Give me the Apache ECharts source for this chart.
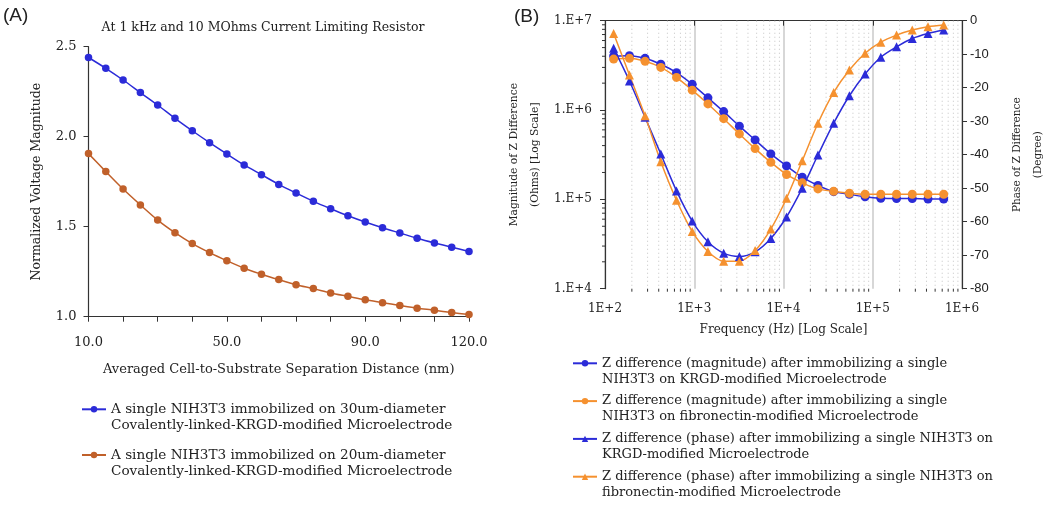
<!DOCTYPE html>
<html><head><meta charset="utf-8">
<script src="https://cdn.jsdelivr.net/npm/echarts@6/dist/echarts.min.js"></script>
<style>html,body{margin:0;padding:0;background:#fff}#c{width:1050px;height:507px}</style>
</head><body><div id="c"></div>
<script>
// ---------- Panel A data ----------
const distances = [10,15,20,25,30,35,40,45,50,55,60,65,70,75,80,85,90,95,100,105,110,115,120];
const voltage30um = [2.44,2.38,2.315,2.245,2.176,2.102,2.033,1.967,1.904,1.843,1.789,1.735,1.687,1.641,1.600,1.561,1.526,1.494,1.465,1.436,1.410,1.386,1.362];
const voltage20um = [1.906,1.806,1.709,1.621,1.537,1.467,1.406,1.356,1.311,1.269,1.236,1.206,1.178,1.156,1.132,1.113,1.094,1.078,1.062,1.047,1.036,1.023,1.012];
const panelAXTicks = [10, 50, 90, 120];
const panelALegend = [
  'A single NIH3T3 immobilized on 30um-diameter\nCovalently-linked-KRGD-modified Microelectrode',
  'A single NIH3T3 immobilized on 20um-diameter\nCovalently-linked-KRGD-modified Microelectrode'
];
// ---------- Panel B data ----------
const frequencies = [125,188,281,422,633,949,1424,2136,3204,4806,7209,10814,16220,24330,36496,54744,82116,123174,184761,277141,415712,623568];
const magKRGD = [4.03e6,4.06e6,3.79e6,3.25e6,2.62e6,1.94e6,1.37e6,9.6e5,6.6e5,4.63e5,3.23e5,2.37e5,1.77e5,1.43e5,1.22e5,1.14e5,1.07e5,1.03e5,1.02e5,1.02e5,1.01e5,1.01e5];
const magFN = [3.72e6,3.79e6,3.51e6,3.0e6,2.32e6,1.67e6,1.17e6,8.0e5,5.4e5,3.7e5,2.6e5,1.9e5,1.53e5,1.31e5,1.23e5,1.17e5,1.14e5,1.14e5,1.14e5,1.14e5,1.14e5,1.14e5];
const phaseKRGD = [-8.2,-18.0,-28.8,-39.8,-50.8,-59.8,-66.0,-69.4,-70.4,-69.0,-65.0,-58.6,-50.0,-40.1,-30.6,-22.4,-15.9,-10.9,-7.8,-5.3,-3.8,-2.8];
const phaseFN = [-3.8,-16.2,-28.4,-42.1,-53.6,-62.9,-68.9,-71.8,-71.8,-68.6,-62.2,-53.0,-41.8,-30.6,-21.4,-14.7,-9.7,-6.4,-4.3,-2.8,-1.8,-1.3];
const panelBLegend = [
  'Z difference (magnitude) after immobilizing a single\nNIH3T3 on KRGD-modified Microelectrode',
  'Z difference (magnitude) after immobilizing a single\nNIH3T3 on fibronectin-modified Microelectrode',
  'Z difference (phase) after immobilizing a single NIH3T3 on\nKRGD-modified Microelectrode',
  'Z difference (phase) after immobilizing a single NIH3T3 on\nfibronectin-modified Microelectrode'
];
// log-axis minor tick values (2..9 x each decade)
const freqMinor = [];
for (let e = 2; e < 6; e++) for (let m = 2; m <= 9; m++) freqMinor.push(m * Math.pow(10, e));
const magMinor = [];
for (let e = 4; e < 7; e++) for (let m = 2; m <= 9; m++) magMinor.push(m * Math.pow(10, e));

const SERIF = "'DejaVu Serif', serif";
const SANS = "'Liberation Sans', Arial, sans-serif";
const BLUE = '#2b2bd8', BROWN = '#c0602a', ORANGE = '#f5912f';
const AX = '#333';
const pair = (xs, ys) => xs.map((x, i) => [x, ys[i]]);
// leading blank line keeps the legend icon level with the first text line
const legendFmt = name => '\n' + name;

const chart = echarts.init(document.getElementById('c'), null, {renderer: 'canvas'});
chart.setOption({
  animation: false,
  backgroundColor: '#fff',
  title: [
    {text: '(A)', left: 3, top: 6, padding: 0, textStyle: {fontFamily: SANS, fontSize: 19, fontWeight: 'normal', color: '#222'}},
    {text: '(B)', left: 514, top: 7, padding: 0, textStyle: {fontFamily: SANS, fontSize: 19, fontWeight: 'normal', color: '#222'}},
    {text: 'At 1 kHz and 10 MOhms Current Limiting Resistor', left: 263, top: 21, padding: 0, textAlign: 'center',
     textStyle: {fontFamily: SERIF, fontSize: 12.5, fontWeight: 'normal', color: '#222'}}
  ],
  grid: [
    {left: 88.5, right: 581, top: 46.7, bottom: 190.3},
    {left: 605, right: 85.7, top: 20.7, bottom: 218.3}
  ],
  legend: [
    {orient: 'vertical', left: 81, top: 385.3, padding: 0, itemGap: -2.3, itemWidth: 24, itemHeight: 8,
     data: panelALegend, selectedMode: false, formatter: legendFmt,
     textStyle: {fontFamily: SERIF, fontSize: 13.6, lineHeight: 16, color: '#222'}},
    {orient: 'vertical', left: 572, top: 339.3, padding: 0, itemGap: -10.2, itemWidth: 24, itemHeight: 8,
     data: panelBLegend, selectedMode: false, formatter: legendFmt,
     textStyle: {fontFamily: SERIF, fontSize: 13.0, lineHeight: 16, color: '#222'}}
  ],
  xAxis: [
    {gridIndex: 0, type: 'value', min: 10, max: 120, interval: 10,
     name: 'Averaged Cell-to-Substrate Separation Distance (nm)', nameLocation: 'middle', nameGap: 46,
     nameTextStyle: {fontFamily: SERIF, fontSize: 13, color: '#222'},
     axisLine: {show: true, lineStyle: {color: AX, width: 1.2}},
     axisTick: {show: true, length: 5, lineStyle: {color: AX}},
     axisLabel: {margin: 19, fontFamily: SERIF, fontSize: 13, color: '#222',
       formatter: v => panelAXTicks.includes(v) ? v.toFixed(1) : ''},
     splitLine: {show: false}},
    {gridIndex: 1, type: 'log', logBase: 10, min: 100, max: 1e6,
     name: 'Frequency (Hz) [Log Scale]', nameLocation: 'middle', nameGap: 35,
     nameTextStyle: {fontFamily: SERIF, fontSize: 12, color: '#222'},
     axisLine: {show: true, lineStyle: {color: AX, width: 1.2}},
     axisTick: {show: true, length: 5, lineStyle: {color: AX}},
     axisLabel: {margin: 14, fontFamily: SERIF, fontSize: 12, color: '#222',
       formatter: v => '1E+' + Math.round(Math.log10(v))},
     splitLine: {show: true, lineStyle: {color: '#cacaca', width: 1.5}}}
  ],
  yAxis: [
    {gridIndex: 0, type: 'value', min: 1, max: 2.5, interval: 0.5,
     name: 'Normalized Voltage Magnitude', nameLocation: 'middle', nameGap: 45, nameRotate: 90,
     nameTextStyle: {fontFamily: SERIF, fontSize: 12.5, color: '#222'},
     axisLine: {show: true, lineStyle: {color: AX, width: 1.2}},
     axisTick: {show: true, length: 5, lineStyle: {color: AX}},
     axisLabel: {margin: 12, fontFamily: SERIF, fontSize: 13, color: '#222', formatter: v => v.toFixed(1)},
     splitLine: {show: false}},
    {gridIndex: 1, type: 'log', logBase: 10, min: 1e4, max: 1e7, position: 'left',
     name: 'Magnitude of Z Difference\n(Ohms) [Log Scale]', nameLocation: 'middle', nameGap: 59, nameRotate: 90,
     nameTextStyle: {fontFamily: SERIF, fontSize: 10.7, lineHeight: 21, color: '#222'},
     axisLine: {show: true, lineStyle: {color: AX, width: 1.2}},
     axisTick: {show: true, length: 5, lineStyle: {color: AX}},
     axisLabel: {margin: 13, fontFamily: SERIF, fontSize: 12, color: '#222',
       formatter: v => '1.E+' + Math.round(Math.log10(v))},
     splitLine: {show: false}},
    {gridIndex: 1, type: 'value', min: -80, max: 0, interval: 10, position: 'right',
     name: 'Phase of Z Difference\n(Degree)', nameLocation: 'middle', nameGap: 45, nameRotate: 90,
     nameTextStyle: {fontFamily: SERIF, fontSize: 10.5, lineHeight: 21, color: '#222'},
     axisLine: {show: true, lineStyle: {color: AX, width: 1.2}},
     axisTick: {show: true, length: 5, lineStyle: {color: AX}},
     axisLabel: {margin: 8, fontFamily: SANS, fontSize: 13, color: '#222'},
     splitLine: {show: false}}
  ],
  series: [
    // minor vertical dotted grid lines + bottom minor ticks (panel B)
    {type: 'custom', xAxisIndex: 1, yAxisIndex: 1, silent: true, z: 1,
     data: freqMinor.map(v => [v, 1e4]),
     renderItem: (params, api) => {
       const x = api.coord([api.value(0), api.value(1)])[0];
       const cs = params.coordSys;
       return {type: 'group', children: [
         {type: 'line', shape: {x1: x, y1: cs.y, x2: x, y2: cs.y + cs.height},
          style: {stroke: '#cdcdcd', lineWidth: 1, lineDash: [1.2, 2.8]}},
         {type: 'line', shape: {x1: x, y1: cs.y + cs.height, x2: x, y2: cs.y + cs.height + 3},
          style: {stroke: AX, lineWidth: 1}}
       ]};
     }},
    // minor ticks on the magnitude log axis
    {type: 'custom', xAxisIndex: 1, yAxisIndex: 1, silent: true, z: 1,
     data: magMinor.map(v => [100, v]),
     renderItem: (params, api) => {
       const y = api.coord([api.value(0), api.value(1)])[1];
       const cs = params.coordSys;
       return {type: 'line', shape: {x1: cs.x - 3, y1: y, x2: cs.x, y2: y}, style: {stroke: AX, lineWidth: 1}};
     }},
    {name: panelALegend[0], type: 'line', xAxisIndex: 0, yAxisIndex: 0, data: pair(distances, voltage30um),
     smooth: 0.3, symbol: 'circle', symbolSize: 7.5, z: 3,
     lineStyle: {color: BLUE, width: 1.5}, itemStyle: {color: BLUE}},
    {name: panelALegend[1], type: 'line', xAxisIndex: 0, yAxisIndex: 0, data: pair(distances, voltage20um),
     smooth: 0.3, symbol: 'circle', symbolSize: 7.5, z: 3,
     lineStyle: {color: BROWN, width: 1.5}, itemStyle: {color: BROWN}},
    {name: panelBLegend[0], type: 'line', xAxisIndex: 1, yAxisIndex: 1, data: pair(frequencies, magKRGD),
     smooth: 0.3, symbol: 'circle', symbolSize: 9, z: 3,
     lineStyle: {color: BLUE, width: 1.5}, itemStyle: {color: BLUE}},
    {name: panelBLegend[1], type: 'line', xAxisIndex: 1, yAxisIndex: 1, data: pair(frequencies, magFN),
     smooth: 0.3, symbol: 'circle', symbolSize: 9, z: 3,
     lineStyle: {color: ORANGE, width: 1.5}, itemStyle: {color: ORANGE}},
    {name: panelBLegend[2], type: 'line', xAxisIndex: 1, yAxisIndex: 2, data: pair(frequencies, phaseKRGD),
     smooth: 0.3, symbol: 'triangle', symbolSize: 9, z: 3,
     lineStyle: {color: BLUE, width: 1.5}, itemStyle: {color: BLUE}},
    {name: panelBLegend[3], type: 'line', xAxisIndex: 1, yAxisIndex: 2, data: pair(frequencies, phaseFN),
     smooth: 0.3, symbol: 'triangle', symbolSize: 9, z: 3,
     lineStyle: {color: ORANGE, width: 1.5}, itemStyle: {color: ORANGE}}
  ]
});
</script>
</body></html>
